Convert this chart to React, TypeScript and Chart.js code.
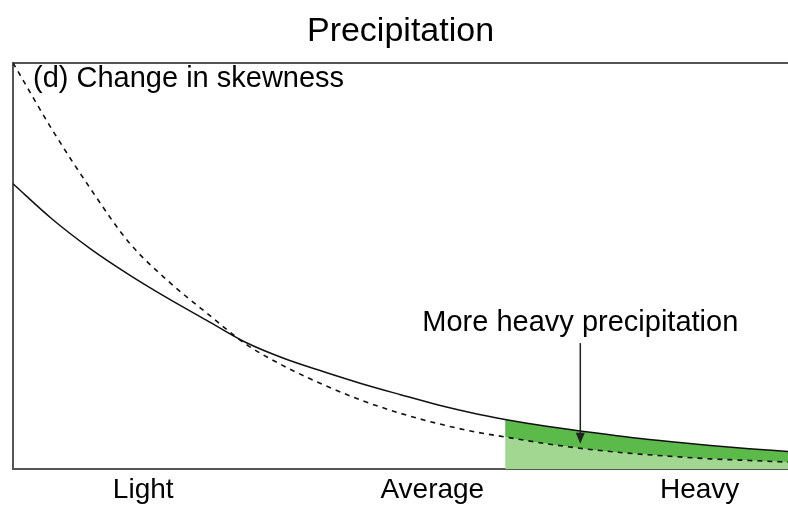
import React, { useEffect, useRef } from "react";
import { Chart, registerables } from "chart.js";

Chart.register(...registerables);

// ---- data (x: precipitation intensity, arbitrary 0..100; y: relative frequency 0..100) ----
const xValues = [0, 5, 10, 15, 20, 25, 30, 35, 40, 45, 50, 55, 60, 63.5, 65, 70, 75, 80, 85, 90, 95, 100];
const presentClimate = [70.2, 61.6, 54.2, 47.8, 42.0, 36.6, 31.2, 27.2, 24.0, 21.0, 18.3, 15.7, 13.5, 12.2, 11.7, 10.2, 8.9, 7.7, 6.7, 5.8, 5.0, 4.3];
const previousClimate = [100, 83.7, 69.0, 55.7, 46.3, 38.4, 30.8, 25.3, 20.8, 16.9, 13.7, 11.1, 9.0, 7.9, 7.4, 5.9, 4.7, 3.8, 3.1, 2.5, 2.1, 1.7];
const heavyStart = 63.5;
const tickPositions = [16.8, 54.1, 88.6];
const tickLabels = ["Light", "Average", "Heavy"];
const titleText = "Precipitation";
const panelText = "(d) Change in skewness";
const arrowText = "More heavy precipitation";
const arrowX = 73.2;
const arrowFrom = 31;
const arrowTo = 6.2;
const arrowTextY = 34;

const FONT = "'Liberation Sans', Arial, Helvetica, sans-serif";
const DARK_GREEN = "#5bba49";
const LIGHT_GREEN = "#a2d792";
const AXIS = "#555555";

const toPoints = (ys: number[]) => xValues.map((x, i) => ({ x, y: ys[i] }));
const heavyPoints = (ys: number[]) =>
  xValues.map((x, i) => ({ x, y: ys[i] })).filter((p) => p.x >= heavyStart);

const annotationPlugin = {
  id: "skewAnnotations",
  afterDatasetsDraw(chart: any) {
    const { ctx, chartArea, scales } = chart;
    const xs = scales.x;
    const ys = scales.y;
    ctx.save();
    ctx.fillStyle = "#000";
    ctx.font = `29px ${FONT}`;
    ctx.textBaseline = "alphabetic";
    ctx.textAlign = "left";
    ctx.fillText(panelText, chartArea.left + 20, chartArea.top + 24);

    const ax = xs.getPixelForValue(arrowX);
    ctx.textAlign = "center";
    ctx.fillText(arrowText, ax, ys.getPixelForValue(arrowTextY));

    const y0 = ys.getPixelForValue(arrowFrom);
    const y1 = ys.getPixelForValue(arrowTo);
    ctx.strokeStyle = "#222";
    ctx.lineWidth = 1.5;
    ctx.beginPath();
    ctx.moveTo(ax, y0);
    ctx.lineTo(ax, y1 - 8);
    ctx.stroke();
    ctx.fillStyle = "#222";
    ctx.beginPath();
    ctx.moveTo(ax, y1);
    ctx.lineTo(ax - 4.5, y1 - 11);
    ctx.lineTo(ax + 4.5, y1 - 11);
    ctx.closePath();
    ctx.fill();
    ctx.restore();
  },
};

export default function App() {
  const canvasRef = useRef<HTMLCanvasElement | null>(null);

  useEffect(() => {
    if (!canvasRef.current) return;
    const chart = new Chart(canvasRef.current, {
      type: "line",
      data: {
        datasets: [
          {
            label: "shadeLow",
            data: heavyPoints(previousClimate),
            fill: "origin",
            backgroundColor: LIGHT_GREEN,
            borderWidth: 0,
            pointRadius: 0,
            cubicInterpolationMode: "monotone",
            order: 3,
          },
          {
            label: "shadeHigh",
            data: heavyPoints(presentClimate),
            fill: 0,
            backgroundColor: DARK_GREEN,
            borderWidth: 0,
            pointRadius: 0,
            cubicInterpolationMode: "monotone",
            order: 2,
          },
          {
            label: "present",
            data: toPoints(presentClimate),
            fill: false,
            borderColor: "#111",
            borderWidth: 1.5,
            pointRadius: 0,
            cubicInterpolationMode: "monotone",
            order: 1,
          },
          {
            label: "previous",
            data: toPoints(previousClimate),
            fill: false,
            borderColor: "#111",
            borderWidth: 1.6,
            borderDash: [5, 5],
            pointRadius: 0,
            cubicInterpolationMode: "monotone",
            order: 0,
          },
        ],
      } as any,
      options: {
        animation: false,
        responsive: false,
        devicePixelRatio: 1,
        layout: { padding: { left: 13, right: 0, top: 0, bottom: -6 } },
        plugins: {
          legend: { display: false },
          tooltip: { enabled: false },
          title: {
            display: true,
            text: titleText,
            color: "#000",
            font: { family: FONT, size: 34, weight: "normal" },
            padding: { top: 11, bottom: 11 },
          },
        },
        scales: {
          x: {
            type: "linear",
            position: "bottom",
            min: 0,
            max: 100,
            grid: { display: false, drawTicks: false },
            border: { display: true, color: AXIS, width: 2 },
            afterBuildTicks: (scale: any) => {
              scale.ticks = tickPositions.map((v) => ({ value: v }));
            },
            ticks: {
              autoSkip: false,
              maxRotation: 0,
              padding: 7,
              color: "#000",
              font: { family: FONT, size: 28, lineHeight: 1.0 },
              callback: (_v: any, i: number) => tickLabels[i],
            },
          },
          xTop: {
            type: "linear",
            position: "top",
            min: 0,
            max: 100,
            grid: { display: false, drawTicks: false },
            border: { display: true, color: AXIS, width: 2 },
            ticks: { display: false },
          },
          y: {
            type: "linear",
            min: 0,
            max: 100,
            grid: { display: false, drawTicks: false },
            border: { display: true, color: AXIS, width: 2 },
            ticks: { display: false },
          },
        },
      } as any,
      plugins: [annotationPlugin],
    });
    return () => chart.destroy();
  }, []);

  return (
    <div style={{ position: "fixed", left: 0, top: 0, width: 788, height: 505, background: "#fff" }}>
      <canvas ref={canvasRef} width={788} height={505} style={{ display: "block" }} />
    </div>
  );
}
